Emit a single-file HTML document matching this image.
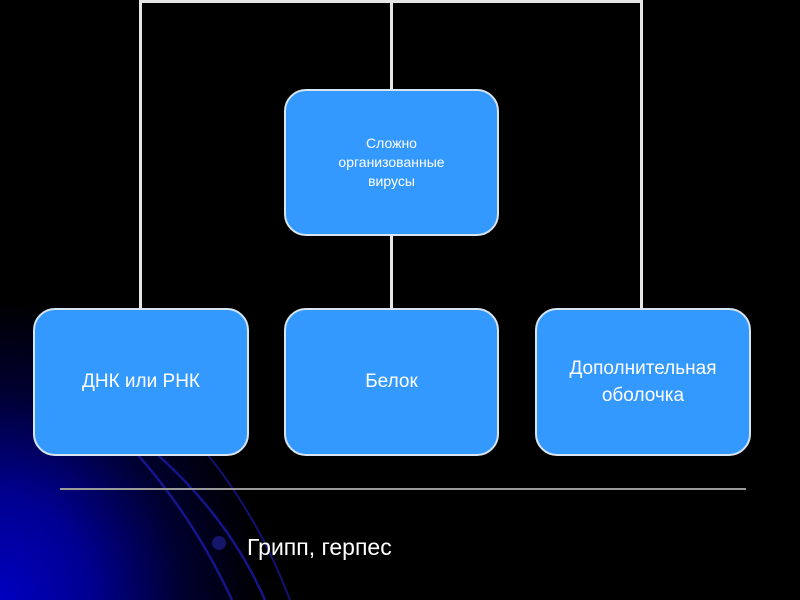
<!DOCTYPE html>
<html><head><meta charset="utf-8"><style>
html,body{margin:0;padding:0}
body{width:800px;height:600px;position:relative;overflow:hidden;background:#000;font-family:"Liberation Sans",sans-serif;}
.bg{position:absolute;left:0;top:0;width:800px;height:600px;background:radial-gradient(ellipse 260px 300px at 0px 600px,#0000c0 0%,#000090 35%,#000030 70%,#000 100%);}
.box{position:absolute;background:#3399ff;border:2px solid #d8e4f0;border-radius:22px;box-sizing:border-box;display:flex;align-items:center;justify-content:center;text-align:center;color:#fff;}
.l{position:absolute;background:#e6e6e6;}
</style></head><body>
<div class="bg"></div>
<svg style="position:absolute;left:0;top:0" width="800" height="600">
<path d="M138,455 Q195,520 232,600" stroke="#15158a" stroke-width="2.5" fill="none"/>
<path d="M158,455 Q230,520 265,600" stroke="#15158a" stroke-width="2.5" fill="none"/>
<path d="M208,455 Q260,520 290,600" stroke="#121270" stroke-width="2" fill="none"/>
<circle cx="219" cy="543" r="7" fill="#15156a"/>
</svg>
<div class="l" style="left:139px;top:0;width:3px;height:308px"></div>
<div class="l" style="left:640px;top:0;width:3px;height:308px"></div>
<div class="l" style="left:139px;top:0;width:504px;height:3px"></div>
<div class="l" style="left:390px;top:0;width:3px;height:90px"></div>
<div class="l" style="left:390px;top:234px;width:3px;height:75px"></div>
<div class="box" style="left:284px;top:89px;width:215px;height:147px;font-size:14px;line-height:19px">Сложно<br>организованные<br>вирусы</div>
<div class="box" style="left:33px;top:308px;width:216px;height:148px;font-size:19px">ДНК или РНК</div>
<div class="box" style="left:284px;top:308px;width:215px;height:148px;font-size:19px">Белок</div>
<div class="box" style="left:535px;top:308px;width:216px;height:148px;font-size:19px;line-height:27px">Дополнительная<br>оболочка</div>
<div class="l" style="left:60px;top:488px;width:686px;height:2px;background:#9a9a9a"></div>
<div style="position:absolute;left:247px;top:534px;color:#fff;font-size:23px">Грипп, герпес</div>
</body></html>
